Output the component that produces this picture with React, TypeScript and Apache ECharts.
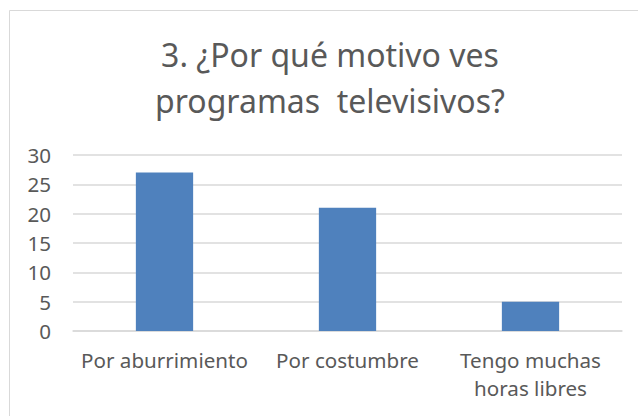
import React, { useEffect, useRef } from "react";
import * as echarts from "echarts";

const titleText = "3. ¿Por qué motivo ves\nprogramas  televisivos?";
const categories = ["Por aburrimiento", "Por costumbre", "Tengo muchas\nhoras libres"];
const values = [27, 21, 5];
const yMin = 0;
const yMax = 30;
const yInterval = 5;

export default function App() {
  const ref = useRef<HTMLDivElement>(null);
  useEffect(() => {
    if (!ref.current) return;
    const chart = echarts.init(ref.current, undefined, { renderer: "svg" });
    const font = "'Noto Sans', sans-serif";
    chart.setOption({
      animation: false,
      backgroundColor: "#ffffff",
      title: {
        text: titleText,
        left: 330,
        top: 31,
        textAlign: "center",
        padding: 0,
        textStyle: {
          fontFamily: font,
          fontSize: 32,
          fontWeight: "normal",
          color: "#595959",
          lineHeight: 46,
        },
      },
      graphic: [
        {
          type: "rect",
          shape: { x: 9.5, y: 10.5, width: 700, height: 500 },
          style: { fill: "none", stroke: "#d9d9d9", lineWidth: 1 },
          silent: true,
        },
      ],
      grid: { left: 73, right: 16, top: 155, bottom: 85, containLabel: false },
      xAxis: {
        type: "category",
        data: categories,
        axisLine: { show: true, lineStyle: { color: "#d9d9d9", width: 1.5 } },
        axisTick: { show: false },
        axisLabel: {
          margin: 15,
          fontFamily: font,
          fontSize: 20.6,
          color: "#595959",
          lineHeight: 28,
          interval: 0,
        },
      },
      yAxis: {
        type: "value",
        min: yMin,
        max: yMax,
        interval: yInterval,
        axisLine: { show: false },
        axisTick: { show: false },
        splitLine: { lineStyle: { color: "#d9d9d9", width: 1.5 } },
        axisLabel: {
          margin: 22,
          fontFamily: font,
          fontSize: 20.6,
          color: "#595959",
        },
      },
      series: [
        {
          type: "bar",
          data: values,
          barWidth: "31.3%",
          itemStyle: { color: "#4f81bd" },
        },
      ],
    });
    return () => chart.dispose();
  }, []);
  return (
    <div
      ref={ref}
      style={{ position: "fixed", left: 0, top: 0, width: 638, height: 416 }}
    />
  );
}
